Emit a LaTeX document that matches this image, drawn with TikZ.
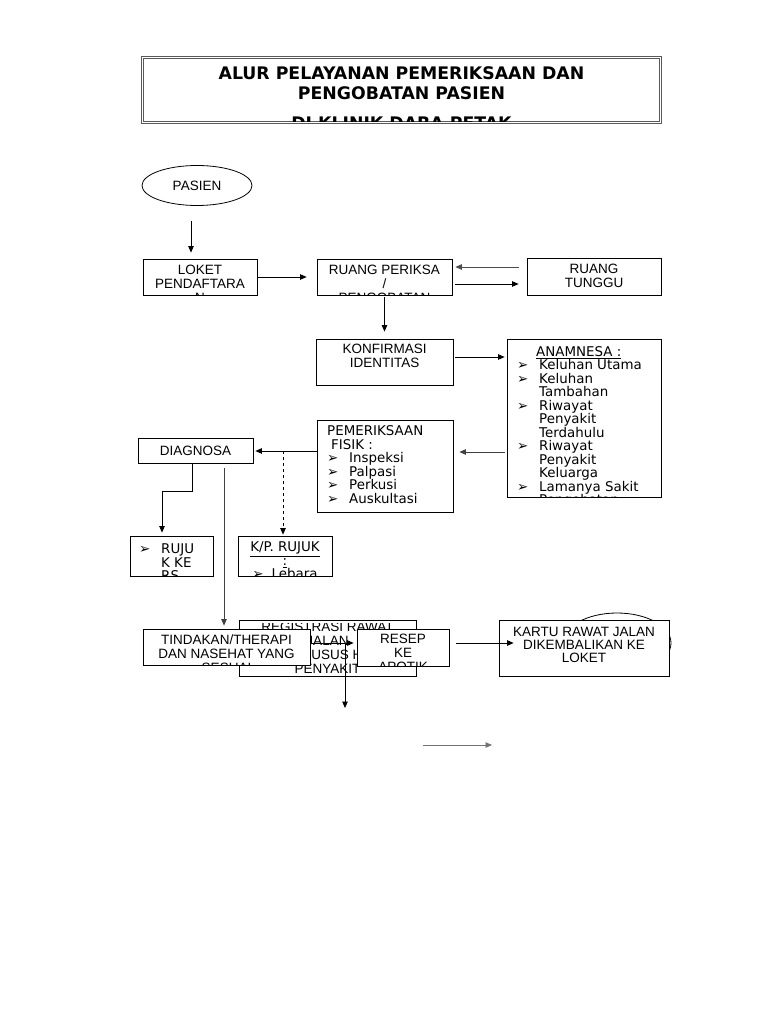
\documentclass[tikz,border=0pt]{standalone}
\usepackage{fontspec}
\usetikzlibrary{shapes.geometric,arrows.meta}
\newfontfamily\hurufkotak{Liberation Sans}
\newfontfamily\hurufdaftar{DejaVu Sans}
\newcommand{\butir}{\makebox[22pt][l]{➢}}
\newcommand{\lanjut}{\hspace*{22pt}}

\begin{document}
\begin{tikzpicture}[x=1pt,y=-1pt,
   kotak/.style={draw,line width=0.8pt,fill=white,inner sep=0pt},
   tulisan/.style={inner sep=0pt,align=center,font=\hurufkotak\fontsize{13.5}{14}\selectfont},
   daftar/.style={inner sep=0pt,align=left,font=\hurufdaftar\fontsize{13.4}{13.5}\selectfont},
   panah/.style={-{Triangle[length=6.5pt,width=5.5pt]},line width=0.8pt}]

   \path[use as bounding box,fill=white] (0,0) rectangle (768,1024);

   % judul
   \node[draw=black!65,double,double distance=1.4pt,line width=0.9pt,
         minimum width=518pt,minimum height=65.5pt,inner sep=0pt] (judul) at (401.5,90) {};
   \begin{scope}
      \clip ([shift={(3pt,-3pt)}]judul.north west) rectangle ([shift={(-3pt,2pt)}]judul.south east);
      \node[inner sep=0pt,align=center,anchor=north,
            font=\hurufdaftar\bfseries\fontsize{17.3}{20}\selectfont] (judul-teks) at (401.5,66)
         {ALUR PELAYANAN PEMERIKSAAN DAN\\PENGOBATAN PASIEN\\[10pt]DI KLINIK DARA PETAK};
   \end{scope}

   \node[kotak,ellipse,tulisan,minimum width=110pt,minimum height=40pt] (pasien) at (197,185.5) {PASIEN};

   \node[kotak,minimum width=114pt,minimum height=36pt] (loket) at (200,277) {};
   \begin{scope}
      \clip (loket.north west) rectangle (loket.south east);
      \node[tulisan,anchor=north] (loket-teks) at (200,264.5) {LOKET\\PENDAFTARA\\N};
   \end{scope}

   \node[kotak,minimum width=135pt,minimum height=36pt] (periksa) at (384.5,277) {};
   \begin{scope}
      \clip (periksa.north west) rectangle (periksa.south east);
      \node[tulisan,anchor=north] (periksa-teks) at (384.5,264.5) {RUANG PERIKSA\\/\\PENGOBATAN};
   \end{scope}

   \node[kotak,minimum width=134pt,minimum height=37pt] (tunggu) at (594,277) {};
   \node[tulisan,anchor=north] (tunggu-teks) at (594,264) {RUANG\\TUNGGU};

   \node[kotak,minimum width=137pt,minimum height=46pt] (konfirmasi) at (384.5,362) {};
   \node[tulisan,anchor=north] (konfirmasi-teks) at (384.5,344) {KONFIRMASI\\IDENTITAS};

   \node[kotak,minimum width=154pt,minimum height=158pt] (anamnesa) at (584,418) {};
   \begin{scope}
      \clip (anamnesa.north west) rectangle (anamnesa.south east);
      \node[daftar,anchor=north west] (anamnesa-teks) at (517,346)
         {\hspace*{19pt}\underline{ANAMNESA :}\\
          \butir Keluhan Utama\\
          \butir Keluhan\\
          \lanjut Tambahan\\
          \butir Riwayat\\
          \lanjut Penyakit\\
          \lanjut Terdahulu\\
          \butir Riwayat\\
          \lanjut Penyakit\\
          \lanjut Keluarga\\
          \butir Lamanya Sakit\\
          \butir Pengobatan};
   \end{scope}

   \node[kotak,minimum width=136pt,minimum height=92pt] (fisik) at (385,466) {};
   \node[daftar,anchor=north west] (fisik-teks) at (327,425.5)
      {PEMERIKSAAN\\
       \hspace*{4pt}FISIK :\\
       \butir Inspeksi\\
       \butir Palpasi\\
       \butir Perkusi\\
       \butir Auskultasi};

   \node[kotak,tulisan,minimum width=115pt,minimum height=25pt] (diagnosa) at (195.5,451) {DIAGNOSA};

   \node[kotak,minimum width=83pt,minimum height=40pt] (rujuk) at (171.5,556) {};
   \begin{scope}
      \clip (rujuk.north west) rectangle (rujuk.south east);
      \node[daftar,anchor=north west] (rujuk-teks) at (139,544)
         {\butir RUJU\\ \lanjut K KE\\ \lanjut RS};
   \end{scope}

   \node[kotak,minimum width=94pt,minimum height=40pt] (kprujuk) at (285,556) {};
   \begin{scope}
      \clip (kprujuk.north west) rectangle (kprujuk.south east);
      \node[daftar,align=center,anchor=north] (kprujuk-teks) at (285,542)
         {\underline{K/P. RUJUK}\\ \underline{:}\\ ➢\hspace{8pt}Lebara};
   \end{scope}

   % kotak bawah yang saling tumpang
   \node[kotak,minimum width=177pt,minimum height=56pt] (registrasi) at (327.5,648) {};
   \begin{scope}
      \clip ([yshift=-4pt]registrasi.north west) rectangle (registrasi.south east);
      \node[tulisan,anchor=north] (registrasi-teks) at (327.5,621.5)
         {REGISTRASI RAWAT\\JALAN\\KHUSUS H\\PENYAKIT};
   \end{scope}

   \node[kotak,minimum width=167pt,minimum height=36pt] (tindakan) at (226.5,647) {};
   \begin{scope}
      \clip (tindakan.north west) rectangle (tindakan.south east);
      \node[tulisan,anchor=north] (tindakan-teks) at (226.5,634.5)
         {TINDAKAN/THERAPI\\DAN NASEHAT YANG\\SESUAI};
   \end{scope}

   \node[kotak,minimum width=92pt,minimum height=37pt] (resep) at (403,647.5) {};
   \begin{scope}
      \clip (resep.north west) rectangle (resep.south east);
      \node[tulisan,anchor=north] (resep-teks) at (403,633.5) {RESEP\\KE\\APOTIK};
   \end{scope}

   \node[kotak,ellipse,minimum width=108pt,minimum height=60pt] (oval) at (617,643) {};
   \node[kotak,minimum width=170pt,minimum height=56pt] (kartu) at (584,648) {};
   \node[tulisan,font=\hurufkotak\fontsize{13.5}{13}\selectfont,anchor=north] (kartu-teks) at (584,627)
      {KARTU RAWAT JALAN\\DIKEMBALIKAN KE\\LOKET};

   \coordinate (cabang) at (283,451);
   \coordinate (bawah) at (345,708);
   \coordinate (awal) at (423,745);
   \coordinate (akhir) at (492,745);

   \draw[panah] ([xshift=-6pt,yshift=-15pt]pasien.south) -- ([xshift=-9pt,yshift=6pt]loket.north);
   \draw[panah] (loket.east) -- ([xshift=-10pt]loket.east -| periksa.west);
   \draw[panah,black!70] ([shift={(-8pt,10pt)}]tunggu.west) -- ([shift={(3pt,10pt)}]periksa.east);
   \draw[panah] ([shift={(3pt,-7pt)}]periksa.east) -- ([shift={(-8pt,-7pt)}]tunggu.west);
   \draw[panah] ([yshift=-2pt]periksa.south) -- ([yshift=7pt]konfirmasi.north);
   \draw[panah] ([shift={(2pt,5pt)}]konfirmasi.east) -- ([shift={(-2pt,61pt)}]anamnesa.west);
   \draw[panah,black!75] ([shift={(-2pt,-34pt)}]anamnesa.west) -- ([shift={(6pt,14pt)}]fisik.east);
   \draw[panah] ([yshift=15pt]fisik.west) -- ([xshift=2pt]diagnosa.east);
   \draw[panah,dashed] (cabang) -- ([shift={(-2pt,1pt)}]kprujuk.north);
   \draw[panah] ([xshift=-3.5pt]diagnosa.south) -- ++(0,27) -| ([shift={(-9.5pt,3pt)}]rujuk.north);
   \draw[panah,black!75] ([shift={(28.5pt,-4pt)}]diagnosa.south) -- ([shift={(-2.5pt,3pt)}]tindakan.north);
   \draw[panah] ([yshift=4pt]tindakan.east) -- ([shift={(-3pt,4.5pt)}]resep.west);
   \draw[panah] ([yshift=4pt]tindakan.east) -| (bawah);
   \draw[panah] ([shift={(7pt,4.5pt)}]resep.east) -- ([shift={(15pt,5pt)}]kartu.west);
   \draw[panah,black!55] (awal) -- (akhir);

\end{tikzpicture}
\end{document}
